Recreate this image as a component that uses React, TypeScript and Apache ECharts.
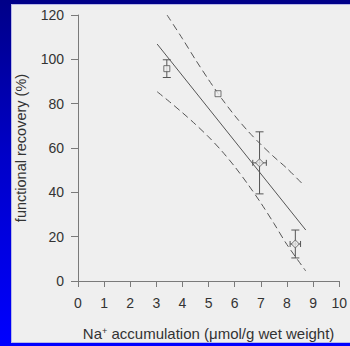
import React, { useEffect, useRef } from "react";
import * as echarts from "echarts";

// Measured points: open squares (no horizontal spread) and open diamonds
const squareX = [3.4, 5.36];
const squareY = [95.8, 84.5];
const squareYErr = [4.0, 0];

const diamondX = [6.95, 8.32];
const diamondY = [53.3, 16.7];
const diamondXErr = [0.26, 0.2];
const diamondYErr = [14.0, 6.3];

// Regression line and its confidence band
const fitX = [3.03, 8.72];
const fitY = [106.9, 23.0];
const upperX = [3.41, 4.0, 4.5, 5.0, 5.36, 5.5, 6.0, 6.5, 7.0, 7.5, 8.0, 8.66];
const upperY = [120, 109.3, 99.8, 90.8, 84.6, 82.3, 74.6, 67.7, 61.6, 56.0, 50.8, 43.0];
const lowerX = [3.03, 3.5, 4.0, 4.43, 5.0, 5.5, 6.0, 6.5, 7.0, 7.5, 8.0, 8.72];
const lowerY = [85.4, 80.9, 75.9, 71.4, 65.0, 58.7, 51.6, 43.7, 35.2, 26.0, 16.4, 4.5];

const xAxisTitle = "Na{sup|+} accumulation (μmol/g wet weight)";
const yAxisTitle = "functional recovery (%)";

const FONT = "Arial, 'Liberation Sans', Helvetica, sans-serif";
const TEXT = "#333333";
const AXIS = "#7a7a7a";
const INK = "#555555";
const PANEL = "#efefef";

const pairs = (xs: number[], ys: number[]) => xs.map((x, i) => [x, ys[i]]);

export default function App() {
  const ref = useRef<HTMLDivElement>(null);

  useEffect(() => {
    if (!ref.current) return;
    const chart = echarts.init(ref.current, null, { renderer: "svg" });

    const errData = [
      ...squareX.map((x, i) => [x, squareY[i], 0, squareYErr[i]]),
      ...diamondX.map((x, i) => [x, diamondY[i], diamondXErr[i], diamondYErr[i]]),
    ];

    const lineStyleBase = { color: INK, width: 1 };

    chart.setOption({
      animation: false,
      backgroundColor: "transparent",
      textStyle: { fontFamily: FONT },
      grid: { left: 78, right: 4, top: 15, bottom: 63 },
      xAxis: {
        type: "value",
        min: 0,
        max: 10,
        interval: 1,
        splitLine: { show: false },
        axisLine: { lineStyle: { color: AXIS, width: 1 } },
        axisTick: { length: 6, lineStyle: { color: AXIS } },
        axisLabel: { color: TEXT, fontSize: 14, margin: 15, fontFamily: FONT },
        name: xAxisTitle,
        nameLocation: "middle",
        nameGap: 45,
        nameTextStyle: {
          color: TEXT,
          fontSize: 15,
          fontFamily: FONT,
          rich: {
            sup: { fontSize: 9, verticalAlign: "top", color: TEXT, fontFamily: FONT },
          },
        },
      },
      yAxis: {
        type: "value",
        min: 0,
        max: 120,
        interval: 20,
        splitLine: { show: false },
        axisLine: { show: true, lineStyle: { color: AXIS, width: 1 } },
        axisTick: { show: true, length: 7, lineStyle: { color: AXIS } },
        axisLabel: { color: TEXT, fontSize: 14, margin: 14, fontFamily: FONT },
        name: yAxisTitle,
        nameLocation: "middle",
        nameGap: 50,
        nameTextStyle: { color: TEXT, fontSize: 14.5, fontFamily: FONT },
      },
      series: [
        {
          type: "line",
          data: pairs(fitX, fitY),
          showSymbol: false,
          lineStyle: { ...lineStyleBase },
          z: 2,
        },
        {
          type: "line",
          data: pairs(upperX, upperY),
          showSymbol: false,
          smooth: 0.3,
          lineStyle: { ...lineStyleBase, type: [7, 4] },
          z: 2,
        },
        {
          type: "line",
          data: pairs(lowerX, lowerY),
          showSymbol: false,
          smooth: 0.3,
          lineStyle: { ...lineStyleBase, type: [7, 4] },
          z: 2,
        },
        {
          type: "custom",
          data: errData,
          z: 3,
          renderItem: (params: any, api: any) => {
            const x = api.value(0);
            const y = api.value(1);
            const xe = api.value(2);
            const ye = api.value(3);
            const children: any[] = [];
            const style = { stroke: INK, lineWidth: 1 };
            if (ye > 0) {
              const top = api.coord([x, y + ye]);
              const bot = api.coord([x, y - ye]);
              children.push(
                { type: "line", shape: { x1: top[0], y1: top[1], x2: bot[0], y2: bot[1] }, style },
                { type: "line", shape: { x1: top[0] - 4, y1: top[1], x2: top[0] + 4, y2: top[1] }, style },
                { type: "line", shape: { x1: bot[0] - 4, y1: bot[1], x2: bot[0] + 4, y2: bot[1] }, style }
              );
            }
            if (xe > 0) {
              const l = api.coord([x - xe, y]);
              const r = api.coord([x + xe, y]);
              children.push(
                { type: "line", shape: { x1: l[0], y1: l[1], x2: r[0], y2: r[1] }, style },
                { type: "line", shape: { x1: l[0], y1: l[1] - 3, x2: l[0], y2: l[1] + 3 }, style },
                { type: "line", shape: { x1: r[0], y1: r[1] - 3, x2: r[0], y2: r[1] + 3 }, style }
              );
            }
            return { type: "group", children };
          },
        },
        {
          type: "scatter",
          data: pairs(squareX, squareY),
          symbol: "rect",
          symbolSize: 6,
          itemStyle: { color: PANEL, borderColor: INK, borderWidth: 1 },
          z: 4,
        },
        {
          type: "scatter",
          data: pairs(diamondX, diamondY),
          symbol: "diamond",
          symbolSize: 8,
          itemStyle: { color: PANEL, borderColor: INK, borderWidth: 1 },
          z: 4,
        },
      ],
    });

    return () => chart.dispose();
  }, []);

  return (
    <div
      style={{
        position: "fixed",
        left: 0,
        top: 0,
        width: 350,
        height: 346,
        background: "linear-gradient(to bottom, #000088 0%, #0000c8 45%, #0000ff 100%)",
        overflow: "hidden",
      }}
    >
      <div
        style={{
          position: "absolute",
          left: 12,
          top: 5,
          width: 345,
          height: 337,
          background: PANEL,
          boxShadow: "0 0 0 1px #b8b8e8",
        }}
      />
      <div ref={ref} style={{ position: "absolute", left: 0, top: 0, width: 350, height: 346 }} />
    </div>
  );
}
